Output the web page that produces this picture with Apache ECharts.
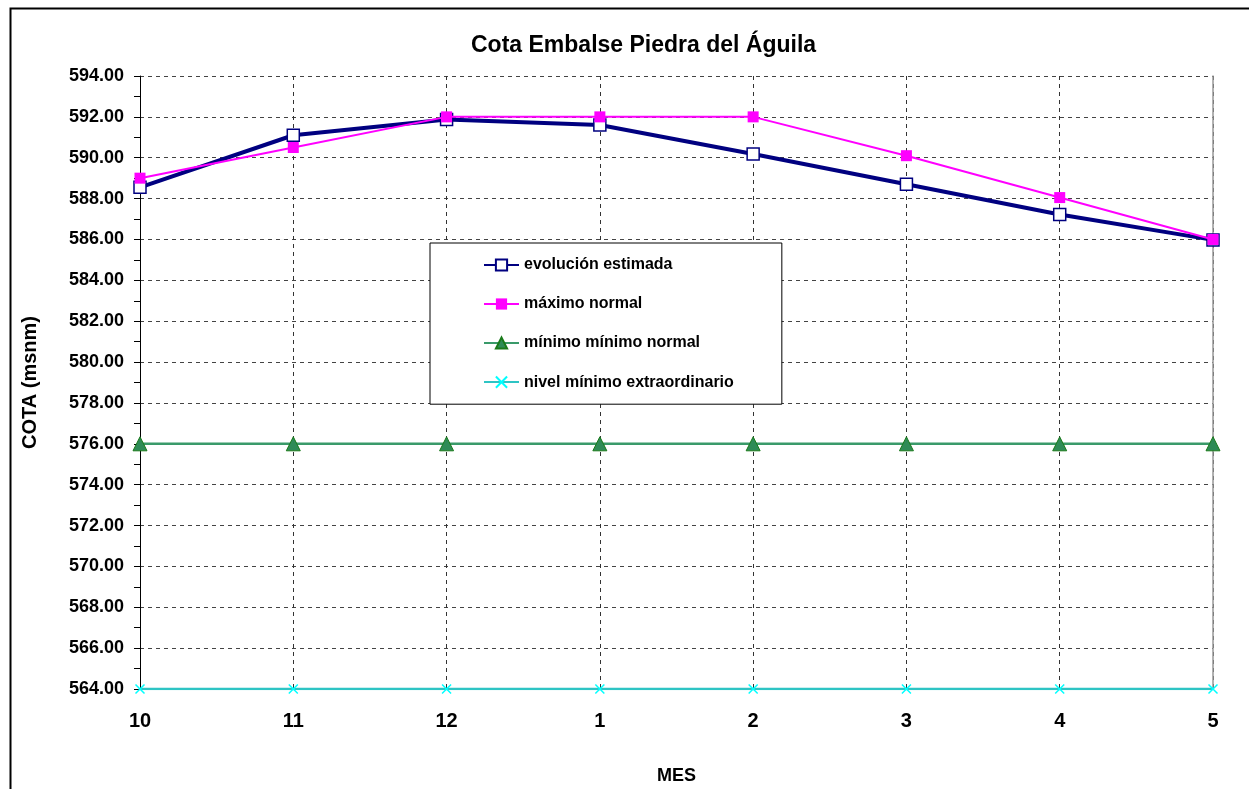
<!DOCTYPE html>
<html>
<head>
<meta charset="utf-8">
<script src="https://cdn.jsdelivr.net/npm/echarts@6/dist/echarts.min.js"></script>
<style>html,body{margin:0;padding:0;background:#fff;}#c{width:1249px;height:789px;}</style>
</head>
<body>
<div id="c"></div>
<script>
const meses = ['10', '11', '12', '1', '2', '3', '4', '5'];
const evolucionEstimada = [588.55, 591.1, 591.87, 591.6, 590.18, 588.7, 587.22, 585.98];
const maximoNormal = [589.0, 590.5, 592.0, 592.0, 592.0, 590.1, 588.05, 586.0];
const minimoNormal = [576, 576, 576, 576, 576, 576, 576, 576];
const nivelExtraordinario = [564, 564, 564, 564, 564, 564, 564, 564];
const yMin = 564, yMax = 594, yStep = 2;

const FONT = '"Liberation Sans", Arial, sans-serif';
const chart = echarts.init(document.getElementById('c'), null, {renderer: 'canvas'});
chart.setOption({
  backgroundColor: '#fff',
  animation: false,
  textStyle: {fontFamily: FONT, color: '#000'},
  title: {
    text: 'Cota Embalse Piedra del Águila',
    left: 466, top: 29,
    textStyle: {fontFamily: FONT, fontWeight: 'bold', fontSize: 23, color: '#000'}
  },
  graphic: [{
    type: 'rect', left: 8, top: 6, silent: true,
    shape: {width: 1400, height: 1000},
    style: {fill: 'none', stroke: '#000', lineWidth: 2}
  }],
  legend: {
    orient: 'vertical', left: 430, top: 243,
    padding: [14, 48, 14, 53],
    itemGap: 23, itemWidth: 35, itemHeight: 14,
    backgroundColor: '#fff', borderColor: '#000', borderWidth: 1,
    textStyle: {fontFamily: FONT, fontWeight: 'bold', fontSize: 16, color: '#000', lineHeight: 16},
    data: ['evolución estimada', 'máximo normal', 'mínimo mínimo normal', 'nivel mínimo extraordinario']
  },
  grid: {left: 140, right: 36, top: 76, bottom: 100, containLabel: false, outerBoundsMode: 'none'},
  xAxis: {
    type: 'category', data: meses, boundaryGap: false,
    name: 'MES', nameLocation: 'middle', nameGap: 78,
    nameTextStyle: {fontFamily: FONT, fontWeight: 'bold', fontSize: 18, color: '#000'},
    axisLine: {show: true, lineStyle: {color: '#000', width: 1}},
    axisTick: {show: false},
    axisLabel: {fontFamily: FONT, fontWeight: 'bold', fontSize: 20, color: '#000', margin: 22},
    splitLine: {show: true, lineStyle: {color: '#333', type: [4, 4], width: 1}}
  },
  yAxis: [{
    type: 'value', min: yMin, max: yMax, interval: yStep,
    name: 'COTA (msnm)', nameLocation: 'middle', nameGap: 100, nameRotate: 90,
    nameTextStyle: {fontFamily: FONT, fontWeight: 'bold', fontSize: 20, color: '#000'},
    axisLine: {show: true, lineStyle: {color: '#000', width: 1}},
    axisTick: {show: true, inside: false, length: 6, lineStyle: {color: '#000'}},
    minorTick: {show: true, splitNumber: 2, length: 6, lineStyle: {color: '#000'}},
    axisLabel: {fontFamily: FONT, fontWeight: 'bold', fontSize: 18, color: '#000', margin: 16,
      formatter: v => v.toFixed(2)},
    splitLine: {show: true, lineStyle: {color: '#444', type: [4, 4], width: 1}}
  }, {
    type: 'value', min: yMin, max: yMax, interval: yStep, position: 'right',
    axisLine: {show: true, lineStyle: {color: '#999', width: 1.5}},
    axisTick: {show: false}, axisLabel: {show: false}, splitLine: {show: false}
  }],
  series: [{
    name: 'evolución estimada', type: 'line', data: evolucionEstimada,
    symbol: 'rect', symbolSize: 12, showAllSymbol: true,
    lineStyle: {color: '#000080', width: 4},
    itemStyle: {color: '#fff', borderColor: '#000080', borderWidth: 1.5},
    z: 3
  }, {
    name: 'máximo normal', type: 'line', data: maximoNormal,
    symbol: 'rect', symbolSize: 11,
    lineStyle: {color: '#FF00FF', width: 2},
    itemStyle: {color: '#FF00FF', borderColor: '#FF00FF', borderWidth: 0},
    z: 4
  }, {
    name: 'mínimo mínimo normal', type: 'line', data: minimoNormal,
    symbol: 'triangle', symbolSize: 14,
    lineStyle: {color: '#3A9A6A', width: 2.5},
    itemStyle: {color: '#2E8B57', borderColor: '#1A7A1A', borderWidth: 1},
    z: 3
  }, {
    name: 'nivel mínimo extraordinario', type: 'line', data: nivelExtraordinario,
    symbol: 'path://M0,0L10,10M10,0L0,10', symbolSize: 9,
    lineStyle: {color: '#2EC4C4', width: 2.5},
    itemStyle: {color: 'none', borderColor: '#00FFFF', borderWidth: 1.5},
    z: 3
  }]
});
</script>
</body>
</html>
